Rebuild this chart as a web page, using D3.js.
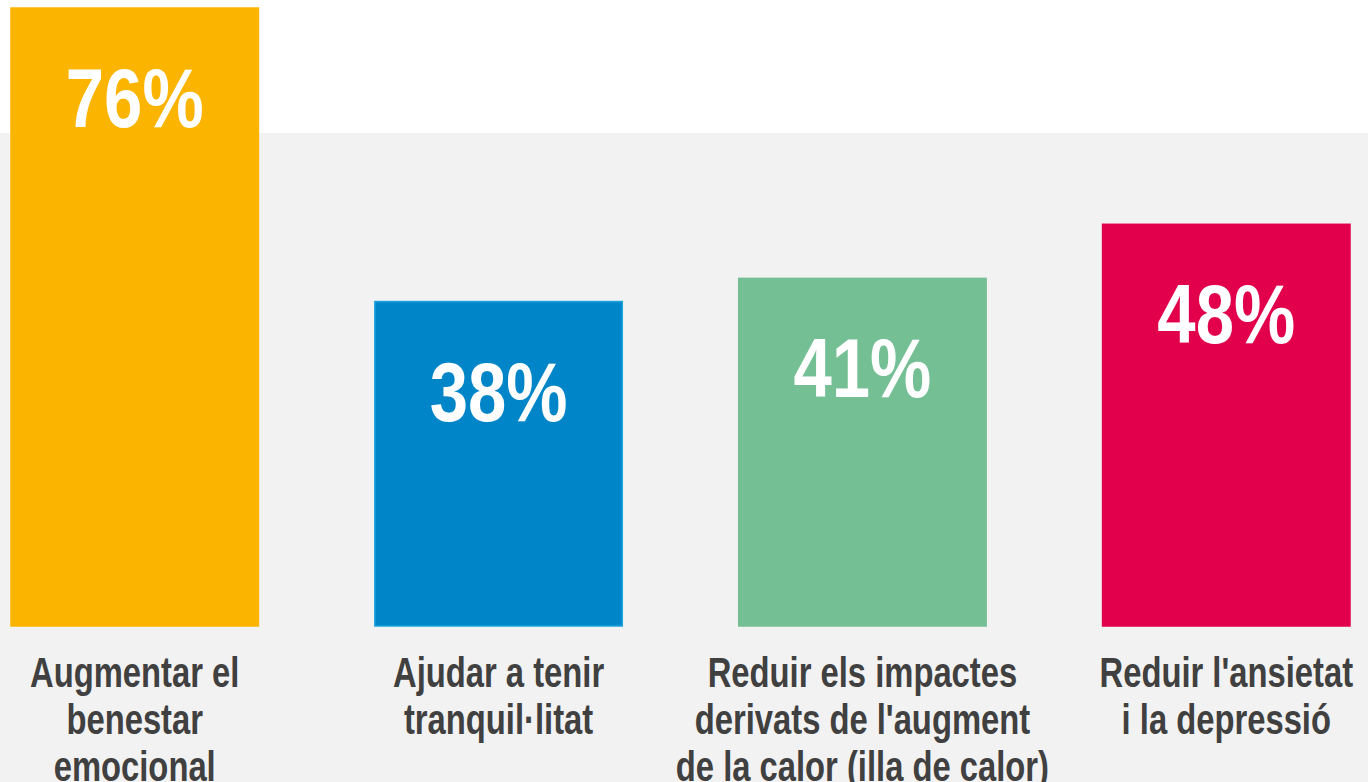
<!DOCTYPE html>
<html>
<head>
<meta charset="utf-8">
<script src="https://cdn.jsdelivr.net/npm/d3@7"></script>
<style>
  html, body { margin: 0; padding: 0; background: #fff; }
  svg { display: block; }
</style>
</head>
<body>
<svg id="barChart" width="1368" height="782"></svg>
<script>
// data
var categories = [
    "Augmentar el\nbenestar\nemocional",
    "Ajudar a tenir\ntranquil·litat",
    "Reduir els impactes\nderivats de l'augment\nde la calor (illa de calor)",
    "Reduir l'ansietat\ni la depressió"
];
var values = [76, 38, 41, 48];
var valueLabels = ["76%", "38%", "41%", "48%"];
var colors = ["#FBB500", "#0086C8", "#75BF94", "#E2004C"];
var strokes = ["#FBB500", "#1AA3DE", "#75BF94", "#E2004C"];

var theData = categories.map(function (c, i) {
    return { name: c, value: values[i], label: valueLabels[i], color: colors[i], stroke: strokes[i] };
});

var W = 1368, H = 782;
var baseY = 626, topY = 8;
// no narrow font installed, squeeze Liberation Sans instead
var narrowVal = 0.82, narrowCat = 0.78;

var svg = d3.select("svg#barChart");

// background: white band on top, light grey below
svg.append("rect").attr("x", 0).attr("y", 0).attr("width", W).attr("height", H).attr("fill", "#fff");
svg.append("rect").attr("x", 0).attr("y", 133).attr("width", W).attr("height", H - 133).attr("fill", "#F2F2F2");

var x = d3.scaleBand()
    .domain(theData.map(function (d) { return d.name; }))
    .range([11, 1350])
    .paddingInner(0.32)
    .paddingOuter(0);

// the original bars are not strictly proportional, slight offset on the baseline
var y = d3.scaleLinear()
    .domain([-4, d3.max(values)])
    .range([baseY, topY]);

var g = svg.append("g");

g.selectAll(".bar")
    .data(theData)
    .enter()
    .append("rect")
    .attr("class", "bar")
    .attr("x", function (d) { return x(d.name); })
    .attr("y", function (d) { return y(d.value); })
    .attr("width", x.bandwidth())
    .attr("height", function (d) { return baseY - y(d.value); })
    .attr("fill", function (d) { return d.color; })
    .attr("stroke", function (d) { return d.stroke; })
    .attr("stroke-width", 1.5);

g.selectAll(".val")
    .data(theData)
    .enter()
    .append("text")
    .attr("class", "val")
    .attr("transform", function (d) {
        return "translate(" + (x(d.name) + x.bandwidth() / 2) + "," + (y(d.value) + 119) + ") scale(" + narrowVal + ",1)";
    })
    .attr("text-anchor", "middle")
    .style("font-family", "'Liberation Sans', Arial, sans-serif")
    .style("font-weight", "bold")
    .style("font-size", "84px")
    .attr("fill", "#fff")
    .text(function (d) { return d.label; });

var labels = g.selectAll(".cat")
    .data(theData)
    .enter()
    .append("text")
    .attr("class", "cat")
    .attr("transform", function (d) {
        return "translate(" + (x(d.name) + x.bandwidth() / 2) + ",687) scale(" + narrowCat + ",1)";
    })
    .attr("text-anchor", "middle")
    .style("font-family", "'Liberation Sans', Arial, sans-serif")
    .style("font-size", "42px")
    .style("font-weight", "bold")
    .attr("fill", "#404040");

labels.each(function (d) {
    var t = d3.select(this);
    d.name.split("\n").forEach(function (line, i) {
        t.append("tspan")
            .attr("x", 0)
            .attr("y", i * 47)
            .text(line);
    });
});
</script>
</body>
</html>
